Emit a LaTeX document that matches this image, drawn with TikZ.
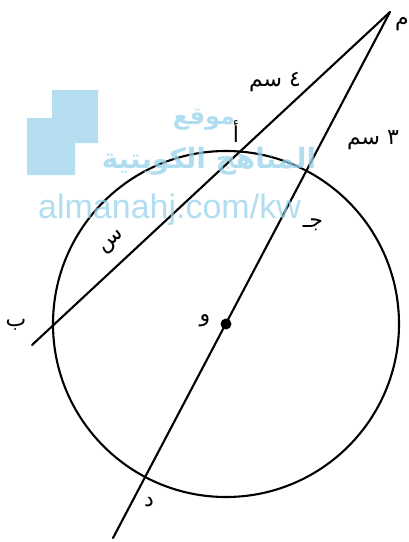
\documentclass[tikz,border=0pt]{standalone}
\usepackage{fontspec}
\usepackage{xcolor}
\TeXXeTstate=1
\newfontfamily\arabicfont[Script=Arabic]{DejaVu Sans}
\newfontfamily\wmlatin{Liberation Sans}
\usetikzlibrary{calc}
\definecolor{wmblue}{RGB}{150,210,235}
\newcommand{\artxt}[1]{\arabicfont\beginR #1\endR}
\tikzset{
  seg/.style ={line width=2.1pt, line cap=round},
  lbl/.style ={font=\arabicfont\fontsize{22}{24}\selectfont, inner sep=0pt},
  wm/.style  ={text=wmblue, text opacity=0.75, inner sep=0pt},
}

\begin{document}
\begin{tikzpicture}[x=1pt, y=-1pt]
  \useasboundingbox (0,0) rectangle (409,542);
  % points of the figure
  \coordinate (M) at (390,12);
  \coordinate (O) at (226,324);
  \coordinate (A) at (238,153);
  \coordinate (B) at (49,329);
  \coordinate (C) at (305,173);
  \coordinate (D) at (147,475);
  \coordinate (Bend) at (32,345);
  \coordinate (Dend) at (113,538);
  % circle and the two secants
  \draw[seg] (O) circle (173);
  \draw[seg] (M) -- (Bend);
  \draw[seg] (M) -- (Dend);
  \fill (O) circle (5.5);
  % labels
  \node[lbl] (lM) at (402,24)  {\artxt{م}};
  \node[lbl] (l4) at (275,82)  {\artxt{٤ سم}};
  \node[lbl] (l3) at (373,140) {\artxt{٣ سم}};
  \node[lbl] (lA) at (236,132) {\artxt{أ}};
  \node[lbl, rotate=40] (lS) at (113,243) {\artxt{س}};
  \node[lbl] (lB) at (16,325)  {\artxt{ب}};
  \node[lbl] (lC) at (313,225) {\artxt{جـ}};
  \node[lbl] (lO) at (205,321) {\artxt{و}};
  \node[lbl] (lD) at (149,502) {\artxt{د}};
  % watermark
  \fill[wmblue, fill opacity=0.7] (52,90) -- (98,90) -- (98,143) -- (75,143)
    -- (75,175) -- (27,175) -- (27,118) -- (52,118) -- cycle;
  \node[wm, font=\arabicfont\bfseries\fontsize{24}{26}\selectfont] (wm1) at (204,120) {\beginR موقع\endR};
  \node[wm, font=\arabicfont\bfseries\fontsize{28}{30}\selectfont] (wm2) at (209,161) {\beginR المناهج الكويتية\endR};
  \node[wm, font=\wmlatin\fontsize{34}{36}\selectfont, anchor=base west] (wm3) at (38,218) {almanahj.com/kw};
\end{tikzpicture}
\end{document}
